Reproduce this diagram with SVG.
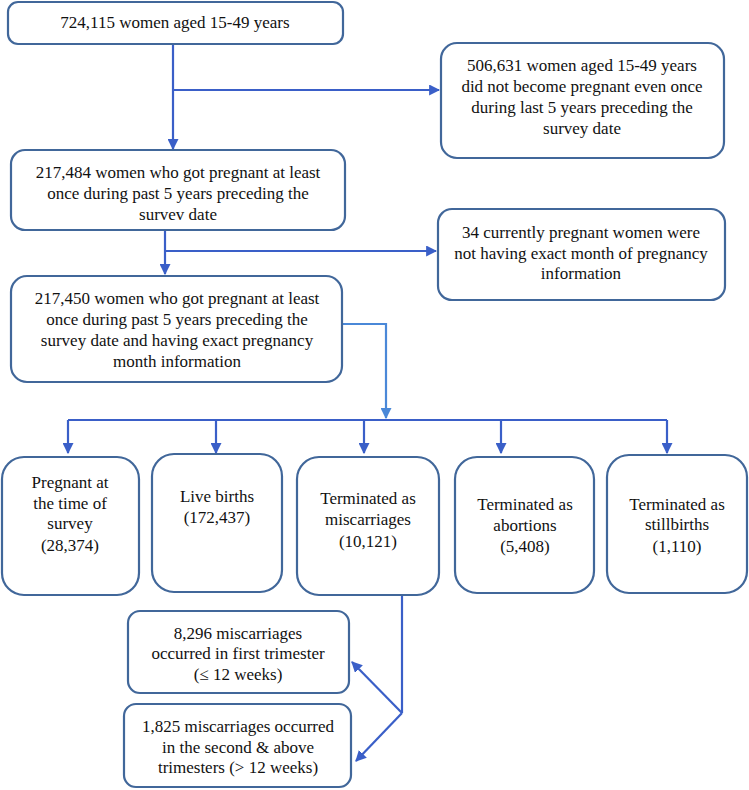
<svg xmlns="http://www.w3.org/2000/svg" width="749" height="790" viewBox="0 0 749 790">
<defs>
<style>
.box{fill:#fff;stroke:#41679a;stroke-width:2.2}
text{font-family:'Liberation Serif','Times New Roman',serif;font-size:17px;fill:#111;text-anchor:middle;dominant-baseline:central}
.c{fill:none;stroke:#3a5fc8;stroke-width:2.2}
.c2{fill:none;stroke:#4a88d8;stroke-width:2.2}
</style>
<marker id="a2" viewBox="0 0 10 10" refX="9" refY="5" markerWidth="5" markerHeight="5" orient="auto"><path d="M0,0L10,5L0,10z" fill="#3a5fc8"/></marker>
<marker id="b2" viewBox="0 0 10 10" refX="9" refY="5" markerWidth="5" markerHeight="5" orient="auto"><path d="M0,0L10,5L0,10z" fill="#4a88d8"/></marker>
</defs>
<g id="connectors">
<path class="c" d="M173,44V149" marker-end="url(#a2)"/>
<path class="c" d="M173,90H439" marker-end="url(#a2)"/>
<path class="c" d="M165,230V274" marker-end="url(#a2)"/>
<path class="c" d="M165,251H436" marker-end="url(#a2)"/>
<path class="c2" d="M342,324H386V418" marker-end="url(#b2)"/>
<path class="c" d="M68,420H667"/>
<path class="c" d="M68,420V453" marker-end="url(#a2)"/>
<path class="c" d="M216,420V453" marker-end="url(#a2)"/>
<path class="c" d="M364,420V453" marker-end="url(#a2)"/>
<path class="c" d="M501,420V453" marker-end="url(#a2)"/>
<path class="c" d="M667,420V453" marker-end="url(#a2)"/>
<path class="c" d="M402,595V713"/>
<path class="c" d="M402,713L352,662" marker-end="url(#a2)"/>
<path class="c" d="M402,713L356,761" marker-end="url(#a2)"/>
</g>
<g id="n1"><rect class="box" x="8" y="2" width="335" height="42" rx="10"/><text x="175" y="22">724,115 women aged 15-49 years</text></g>
<g id="n2"><rect class="box" x="441" y="43" width="283" height="115" rx="16"/>
<text x="582" y="65">506,631 women aged 15-49 years</text>
<text x="582" y="86">did not become pregnant even once</text>
<text x="582" y="107">during last 5 years preceding the</text>
<text x="582" y="128">survey date</text></g>
<g id="n3"><rect class="box" x="11" y="150" width="334" height="80" rx="14"/>
<text x="178" y="172">217,484 women who got pregnant at least</text>
<text x="178" y="193">once during past 5 years preceding the</text>
<text x="178" y="214">survev date</text></g>
<g id="n4"><rect class="box" x="438" y="209" width="287" height="91" rx="14"/>
<text x="581" y="232">34 currently pregnant women were</text>
<text x="581" y="253">not having exact month of pregnancy</text>
<text x="581" y="273">information</text></g>
<g id="n5"><rect class="box" x="11" y="276" width="331" height="106" rx="16"/>
<text x="177" y="298">217,450 women who got pregnant at least</text>
<text x="177" y="319">once during past 5 years preceding the</text>
<text x="177" y="340">survey date and having exact pregnancy</text>
<text x="177" y="361">month information</text></g>
<g id="nA"><rect class="box" x="2" y="457" width="137" height="138" rx="22"/>
<text x="70" y="482">Pregnant at</text>
<text x="70" y="503">the time of</text>
<text x="70" y="523">survey</text>
<text x="70" y="545">(28,374)</text></g>
<g id="nB"><rect class="box" x="152" y="454" width="130" height="138" rx="22"/>
<text x="217" y="496">Live births</text>
<text x="217" y="517">(172,437)</text></g>
<g id="nC"><rect class="box" x="297" y="457" width="142" height="138" rx="22"/>
<text x="368" y="498">Terminated as</text>
<text x="368" y="519">miscarriages</text>
<text x="368" y="541">(10,121)</text></g>
<g id="nD"><rect class="box" x="455" y="457" width="139" height="136" rx="22"/>
<text x="525" y="504">Terminated as</text>
<text x="525" y="525">abortions</text>
<text x="525" y="546">(5,408)</text></g>
<g id="nE"><rect class="box" x="607" y="455" width="140" height="138" rx="22"/>
<text x="677" y="504">Terminated as</text>
<text x="677" y="524">stillbirths</text>
<text x="677" y="546">(1,110)</text></g>
<g id="nF"><rect class="box" x="128" y="611" width="221" height="82" rx="12"/>
<text x="238" y="633">8,296 miscarriages</text>
<text x="238" y="653">occurred in first trimester</text>
<text x="238" y="674">(≤ 12 weeks)</text></g>
<g id="nG"><rect class="box" x="124" y="704" width="227" height="83" rx="12"/>
<text x="238" y="726">1,825 miscarriages occurred</text>
<text x="238" y="747">in the second &amp; above</text>
<text x="238" y="767">trimesters (&gt; 12 weeks)</text></g>
</svg>
